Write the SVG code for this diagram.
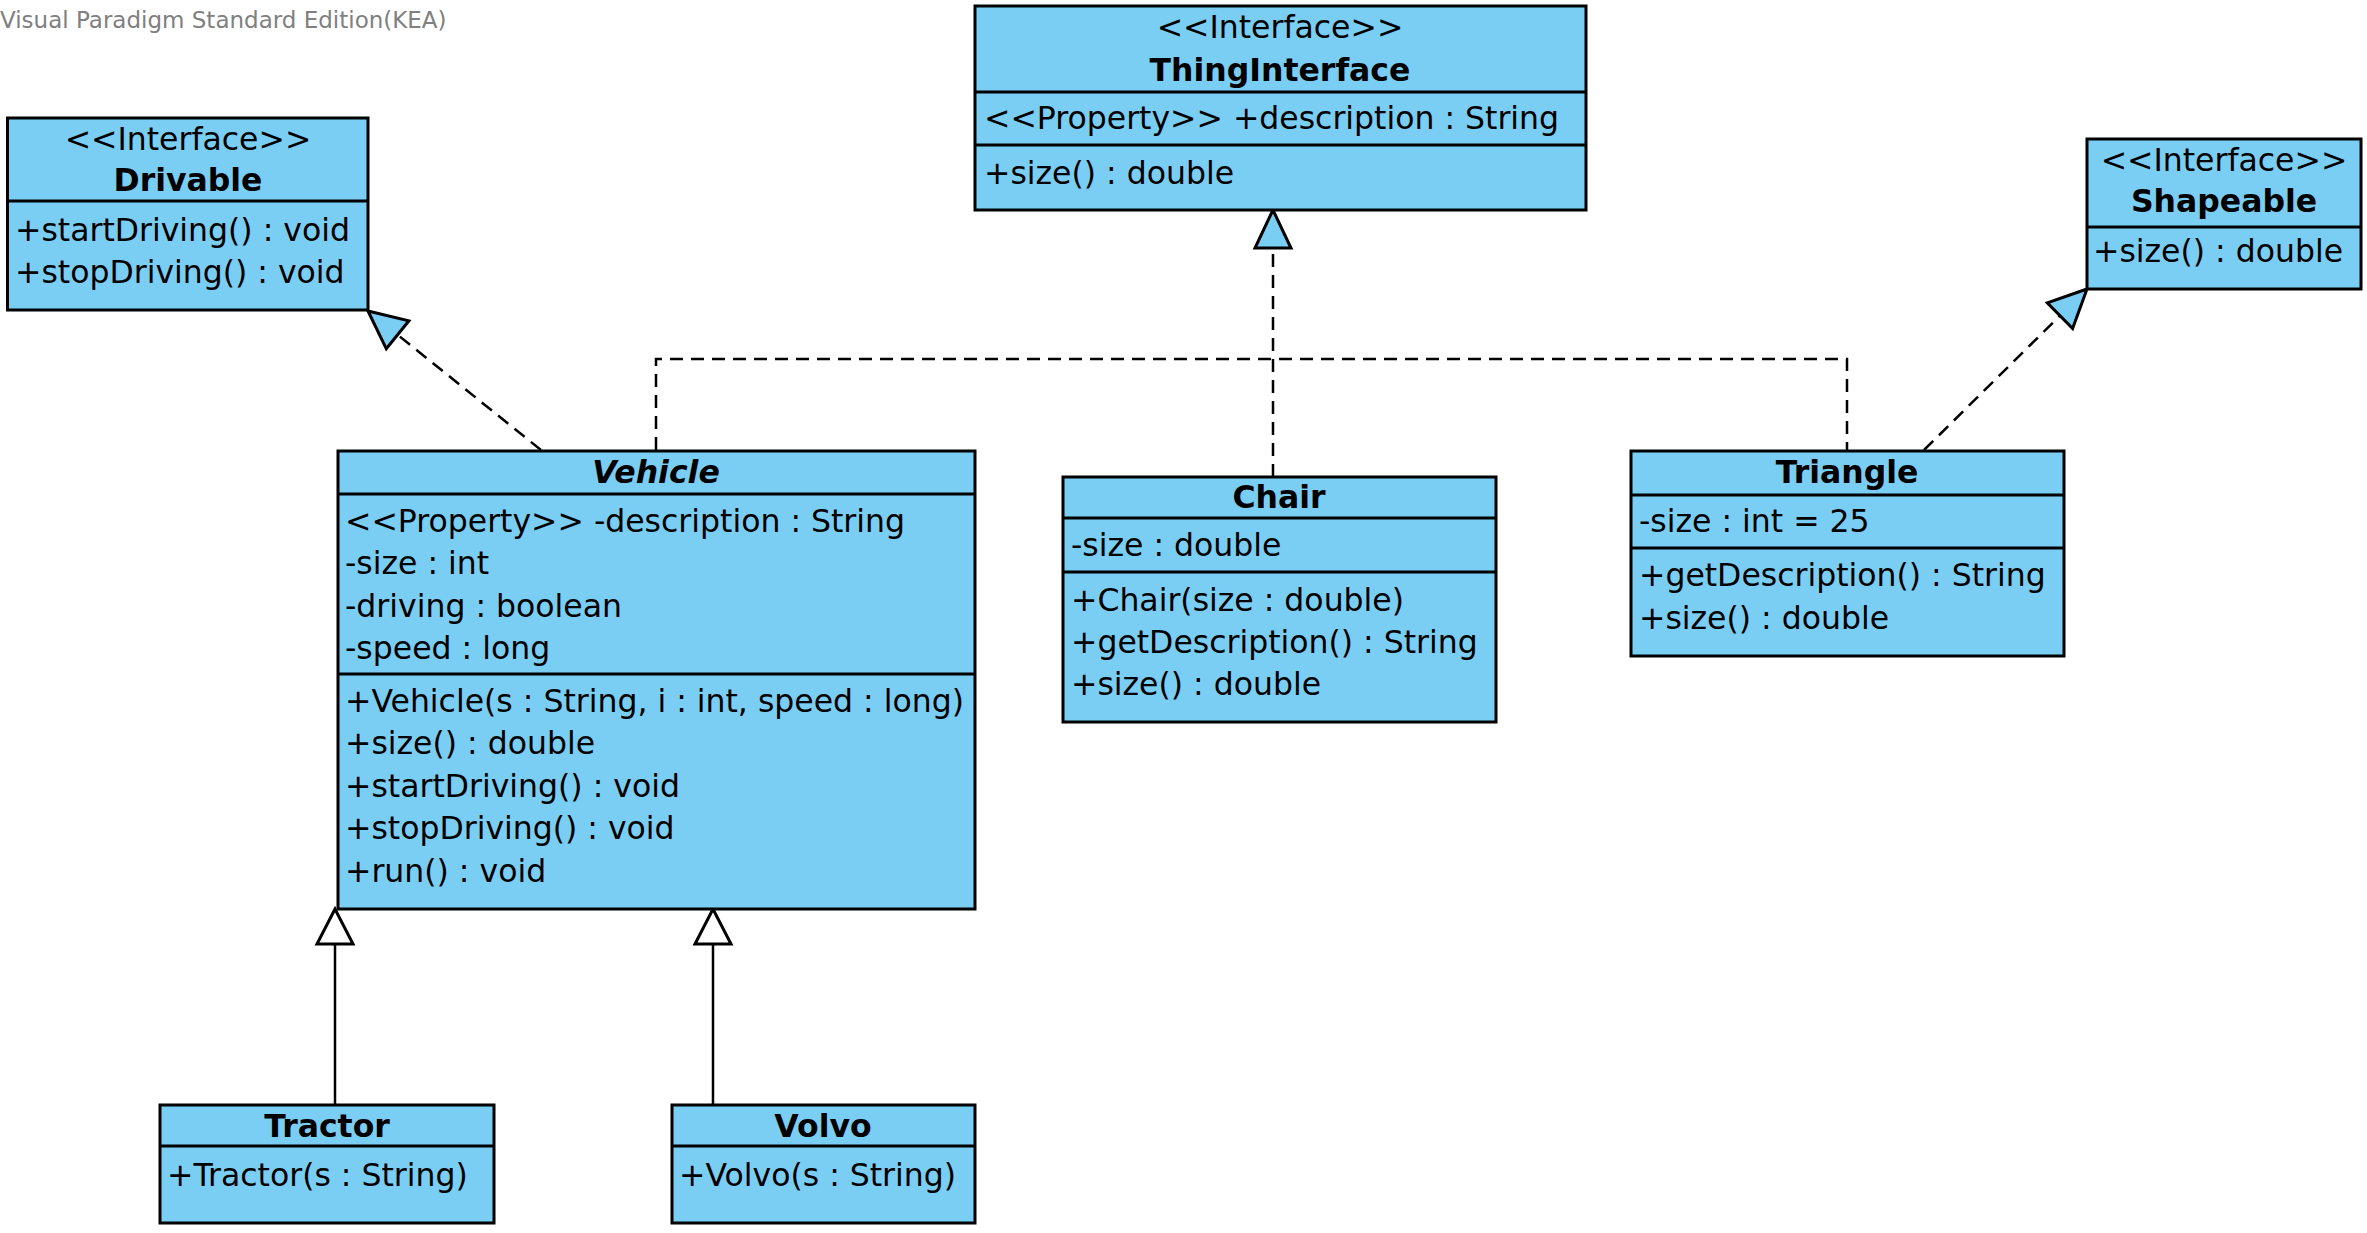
<svg xmlns="http://www.w3.org/2000/svg" width="2367" height="1233" viewBox="0 0 2367 1233">
<style>
.box{fill:#7ACEF4;stroke:#000;stroke-width:3}
.div{stroke:#000;stroke-width:3}
text{font-family:"DejaVu Sans","Liberation Sans",sans-serif;font-size:31.5px;fill:#000}
.c{text-anchor:middle}
.b{font-weight:bold}
.bi{font-weight:bold;font-style:italic}
.hdr{font-size:23px;fill:#808080}
.dash{fill:none;stroke:#000;stroke-width:2.5;stroke-dasharray:13 8}
.solid{fill:none;stroke:#000;stroke-width:2.5}
.real{fill:#7ACEF4;stroke:#000;stroke-width:3;stroke-linejoin:miter}
.gen{fill:#fff;stroke:#000;stroke-width:3;stroke-linejoin:miter}
</style>
<rect width="2367" height="1233" fill="#fff"/>
<text class="hdr" x="0" y="28">Visual Paradigm Standard Edition(KEA)</text>

<g id="connectors">
  <line class="dash" x1="541" y1="450" x2="397.6" y2="334.8"/>
  <polygon class="real" points="368,311 386.3,348.8 408.9,320.8"/>
  <polyline class="dash" points="656,450 656,359 1847,359 1847,450"/>
  <line class="dash" x1="1273" y1="477" x2="1273" y2="248"/>
  <polygon class="real" points="1273,210 1255,248 1291,248"/>
  <line class="dash" x1="1924" y1="450" x2="2060" y2="315.7"/>
  <polygon class="real" points="2087,289 2047.3,302.9 2072.6,328.5"/>
  <line class="solid" x1="335" y1="1105" x2="335" y2="944"/>
  <polygon class="gen" points="335,909 317,944 353,944"/>
  <line class="solid" x1="713" y1="1105" x2="713" y2="944"/>
  <polygon class="gen" points="713,909 695,944 731,944"/>
</g>

<g id="Drivable">
  <rect class="box" x="7.5" y="118" width="360.5" height="192"/>
  <line class="div" x1="7.5" y1="201" x2="368" y2="201"/>
  <text class="c" x="188" y="150">&lt;&lt;Interface&gt;&gt;</text>
  <text class="c b" x="188" y="191">Drivable</text>
  <text x="15" y="241">+startDriving() : void</text>
  <text x="15" y="283">+stopDriving() : void</text>
</g>

<g id="ThingInterface">
  <rect class="box" x="975" y="6" width="611" height="204"/>
  <line class="div" x1="975" y1="92" x2="1586" y2="92"/>
  <line class="div" x1="975" y1="145" x2="1586" y2="145"/>
  <text class="c" x="1280" y="38">&lt;&lt;Interface&gt;&gt;</text>
  <text class="c b" x="1280" y="81">ThingInterface</text>
  <text x="984" y="129">&lt;&lt;Property&gt;&gt; +description : String</text>
  <text x="984" y="184">+size() : double</text>
</g>

<g id="Shapeable">
  <rect class="box" x="2087" y="139" width="274" height="150"/>
  <line class="div" x1="2087" y1="227" x2="2361" y2="227"/>
  <text class="c" x="2224" y="171">&lt;&lt;Interface&gt;&gt;</text>
  <text class="c b" x="2224" y="212">Shapeable</text>
  <text x="2093" y="262">+size() : double</text>
</g>

<g id="Vehicle">
  <rect class="box" x="338" y="451" width="637" height="458"/>
  <line class="div" x1="338" y1="494" x2="975" y2="494"/>
  <line class="div" x1="338" y1="674" x2="975" y2="674"/>
  <text class="c bi" x="656" y="483">Vehicle</text>
  <text x="345" y="532">&lt;&lt;Property&gt;&gt; -description : String</text>
  <text x="345" y="574">-size : int</text>
  <text x="345" y="617">-driving : boolean</text>
  <text x="345" y="659">-speed : long</text>
  <text x="345" y="712">+Vehicle(s : String, i : int, speed : long)</text>
  <text x="345" y="754">+size() : double</text>
  <text x="345" y="797">+startDriving() : void</text>
  <text x="345" y="839">+stopDriving() : void</text>
  <text x="345" y="882">+run() : void</text>
</g>

<g id="Chair">
  <rect class="box" x="1063" y="477" width="433" height="245"/>
  <line class="div" x1="1063" y1="518" x2="1496" y2="518"/>
  <line class="div" x1="1063" y1="572" x2="1496" y2="572"/>
  <text class="c b" x="1279" y="508">Chair</text>
  <text x="1071" y="556">-size : double</text>
  <text x="1071" y="611">+Chair(size : double)</text>
  <text x="1071" y="653">+getDescription() : String</text>
  <text x="1071" y="695">+size() : double</text>
</g>

<g id="Triangle">
  <rect class="box" x="1631" y="451" width="433" height="205"/>
  <line class="div" x1="1631" y1="495" x2="2064" y2="495"/>
  <line class="div" x1="1631" y1="548" x2="2064" y2="548"/>
  <text class="c b" x="1847" y="483">Triangle</text>
  <text x="1639" y="532">-size : int = 25</text>
  <text x="1639" y="586">+getDescription() : String</text>
  <text x="1639" y="629">+size() : double</text>
</g>

<g id="Tractor">
  <rect class="box" x="160" y="1105" width="334" height="118"/>
  <line class="div" x1="160" y1="1146" x2="494" y2="1146"/>
  <text class="c b" x="327" y="1137">Tractor</text>
  <text x="167" y="1186">+Tractor(s : String)</text>
</g>

<g id="Volvo">
  <rect class="box" x="672" y="1105" width="303" height="118"/>
  <line class="div" x1="672" y1="1146" x2="975" y2="1146"/>
  <text class="c b" x="823" y="1137">Volvo</text>
  <text x="679" y="1186">+Volvo(s : String)</text>
</g>
</svg>
